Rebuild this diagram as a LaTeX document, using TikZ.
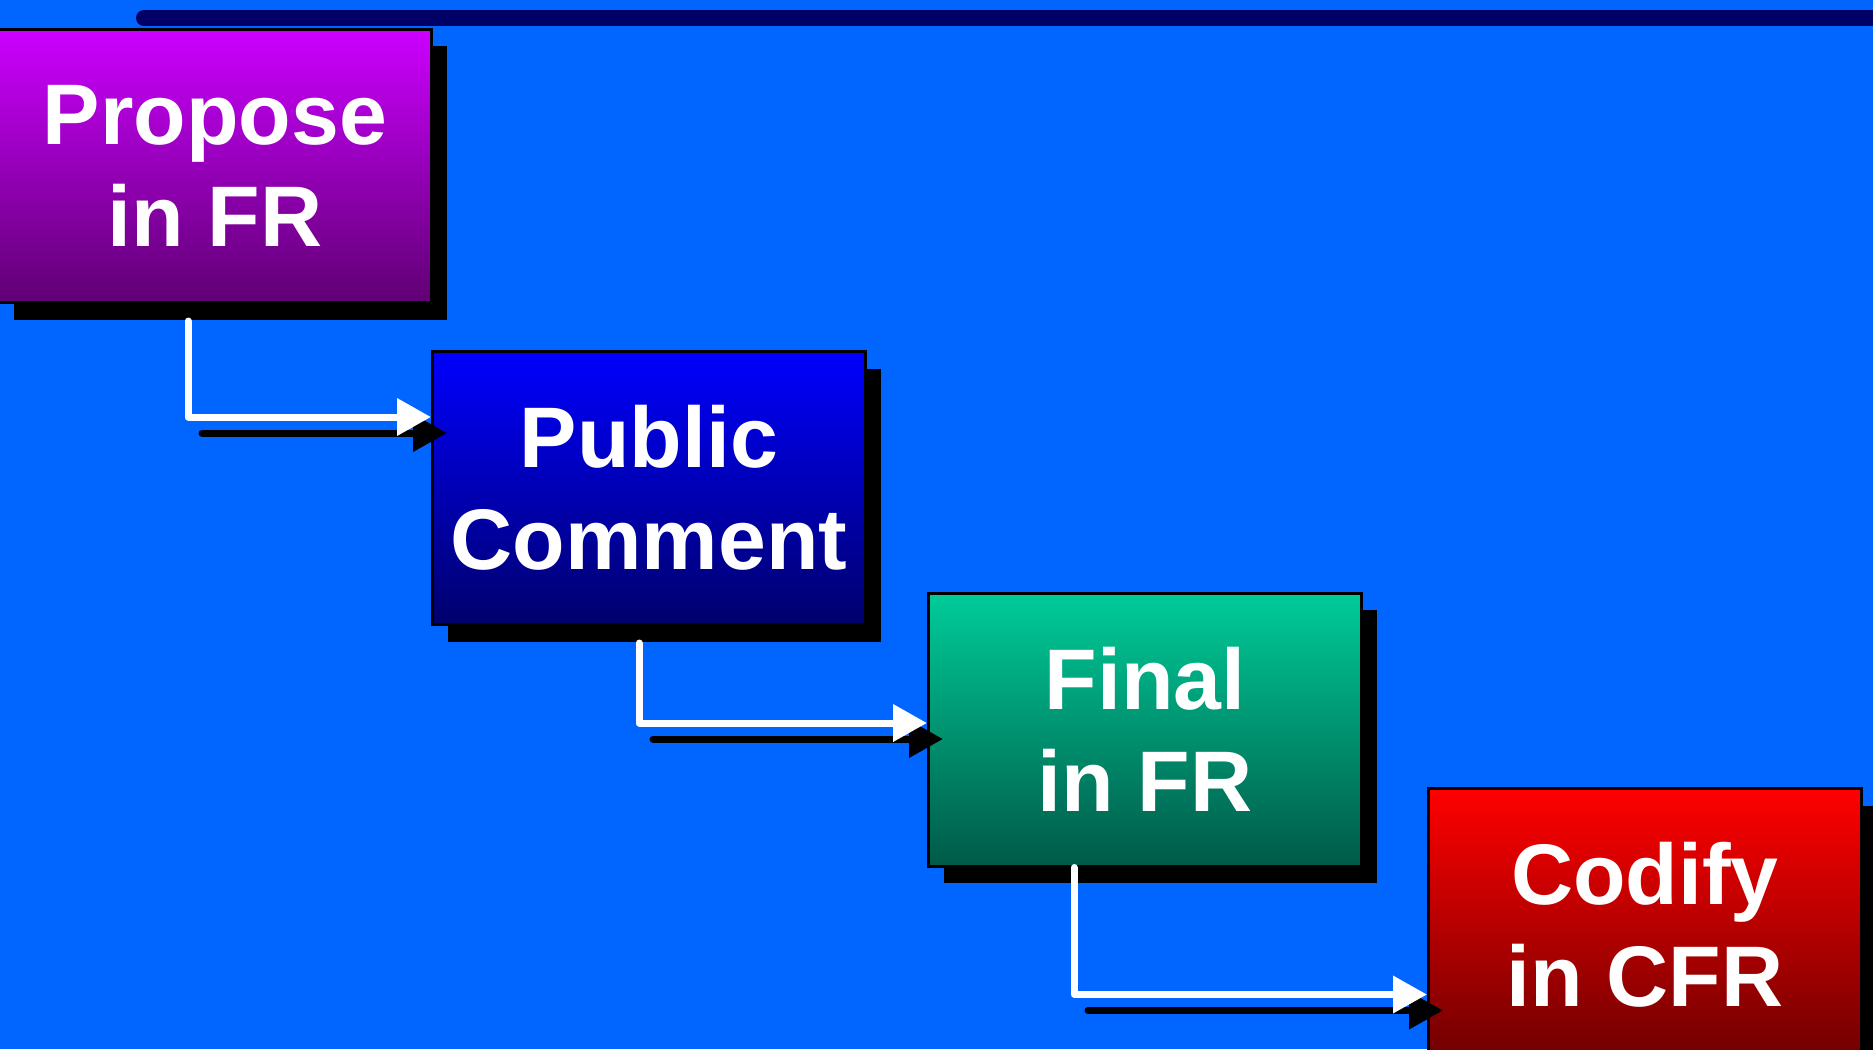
\documentclass[tikz,border=0pt]{standalone}
\usepackage{fontspec}
\setmainfont{Liberation Sans}
\usetikzlibrary{arrows.meta,shadows}
\definecolor{bg}{RGB}{0,102,255}
\definecolor{barcol}{RGB}{0,0,102}
\definecolor{violetTop}{RGB}{204,0,255}
\definecolor{violetBot}{RGB}{96,0,116}
\definecolor{blueTop}{RGB}{0,0,255}
\definecolor{blueBot}{RGB}{0,0,108}
\definecolor{greenTop}{RGB}{0,204,153}
\definecolor{greenBot}{RGB}{0,90,72}
\definecolor{redTop}{RGB}{255,0,0}
\definecolor{redBot}{RGB}{110,0,0}
\begin{document}
\begin{tikzpicture}[x=1pt,y=-1pt,
  stepbox/.style={rectangle, draw=black, line width=3pt,
    minimum width=433pt, minimum height=273pt, inner sep=0pt,
    align=center, text=white,
    font=\fontsize{86}{102}\selectfont\bfseries,
    drop shadow={shadow xshift=15pt, shadow yshift=-17pt, fill=black, opacity=1}},
  wire/.style={draw=white, line width=7pt, line cap=round, line join=round,
    -{Triangle[length=34pt,width=36pt]}},
  wireshadow/.style={draw=black, line width=7pt, line cap=round,
    -{Triangle[length=34pt,width=36pt]}}]
\useasboundingbox (0,0) rectangle (1873,1049);
\clip (0,0) rectangle (1873,1049);
\fill[bg] (0,0) rectangle (1873,1049);
\draw[barcol, line width=16pt, line cap=round] (144,18) -- (1900,18);

\node[stepbox, top color=violetTop, bottom color=violetBot] (p1) at (215,166) {Propose\\in FR};
\node[stepbox, top color=blueTop, bottom color=blueBot] (p2) at (649,488) {Public\\Comment};
\node[stepbox, top color=greenTop, bottom color=greenBot] (p3) at (1145,729.5) {Final\\in FR};
\node[stepbox, top color=redTop, bottom color=redBot] (p4) at (1645,925) {Codify\\in CFR};

% connector anchor points
\coordinate (s1) at ([xshift=-27pt,yshift=-17pt]p1.south);
\coordinate (t1) at ([yshift=71pt]p2.west);
\coordinate (k1) at (s1 |- t1);
\coordinate (s2) at ([xshift=-10pt,yshift=-17pt]p2.south);
\coordinate (t2) at ([yshift=6.5pt]p3.west);
\coordinate (k2) at (s2 |- t2);
\coordinate (s3) at ([xshift=-71pt]p3.south);
\coordinate (t3) at ([yshift=-69.5pt]p4.west);
\coordinate (k3) at (s3 |- t3);

% shadows of connectors
\draw[wireshadow] ([xshift=14pt,yshift=-16pt]k1) -- ([xshift=16pt,yshift=-16pt]t1);
\draw[wireshadow] ([xshift=14pt,yshift=-16pt]k2) -- ([xshift=16pt,yshift=-16pt]t2);
\draw[wireshadow] ([xshift=14pt,yshift=-16pt]k3) -- ([xshift=16pt,yshift=-16pt]t3);

% connectors
\draw[wire] (s1) |- (t1);
\draw[wire] (s2) |- (t2);
\draw[wire] (s3) |- (t3);
\end{tikzpicture}
\end{document}
